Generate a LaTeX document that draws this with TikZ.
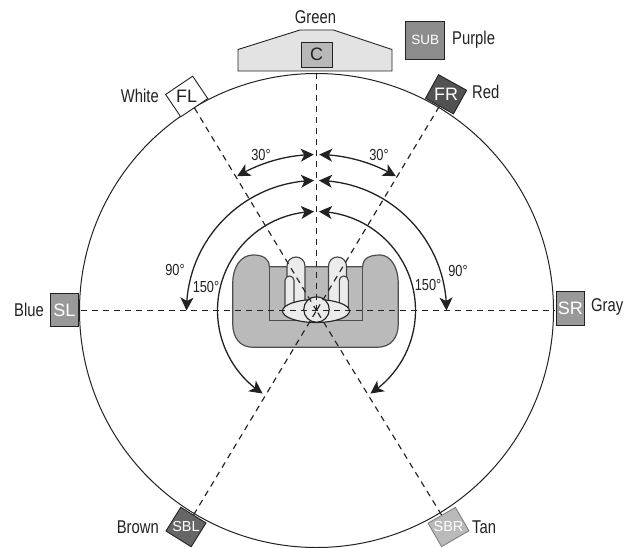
\documentclass[tikz,border=0pt]{standalone}
\usepackage{fontspec}
\setmainfont[FakeStretch=0.8]{Liberation Sans}
\newfontfamily\spkfont{Liberation Sans}
\usetikzlibrary{arrows.meta,bending,shapes.geometric}
\definecolor{ink}{HTML}{222222}
\definecolor{sofagray}{HTML}{BABABA}
\tikzset{
  lbl/.style={font=\fontsize{18.5}{18}\selectfont,text=ink,inner sep=0pt},
  deg/.style={font=\fontsize{16}{16}\selectfont,text=ink,inner sep=0pt},
  spk/.style={draw=ink,line width=0.9pt,inner sep=0pt,minimum width=#1},
  spktxt/.style={font=\spkfont\fontsize{#1}{16}\selectfont,inner sep=0pt},
  sight/.style={draw=ink,line width=1.15pt,dash pattern=on 6pt off 5pt},
  sweep/.style={draw=ink,line width=1.3pt,{Stealth[length=13pt,width=13pt,inset=3.5pt,flex]}-{Stealth[length=13pt,width=13pt,inset=3.5pt,flex]}},
  sofa/.style={draw=ink!80,line width=1.2pt,fill=sofagray}
}
\begin{document}
\begin{tikzpicture}[x=1pt,y=-1pt]
\useasboundingbox (0,0) rectangle (631,548);
\fill[white] (0,0) rectangle (631,548);
\coordinate (ctr) at (316.5,310.5);
% room
\draw[ink,line width=1pt] (ctr) circle[radius=237pt];
% sofa
\draw[sofa] (269.3,266.7) .. controls (269.3,258) and (262,255) .. (253.3,255)
  .. controls (240,255) and (232.7,268) .. (232.7,283.3) -- (232.7,323.3)
  .. controls (232.7,338) and (240,347.3) .. (253.3,347.3) -- (376.7,347.3)
  .. controls (391,347.3) and (398.3,338) .. (398.3,323.3) -- (398.3,283.3)
  .. controls (398.3,268) and (391,255) .. (380,255)
  .. controls (370,255) and (362.7,258) .. (362.7,266.7) -- cycle;
\draw[ink!80,line width=1.2pt] (269.3,266.7) -- (269.3,320.7) -- (362.7,320.7) -- (362.7,266.7);
% legs
\tikzset{leg/.style={draw=ink!85,line width=1.1pt,fill=black!8}}
\draw[leg] (287,310) -- (287,266) arc[start angle=180,end angle=0,radius=9pt] -- (305,310) -- cycle;
\draw[leg] (285,310) -- (285,280.5) arc[start angle=180,end angle=0,radius=4.5pt] -- (294,310) -- cycle;
\draw[leg] (328.5,310) -- (328.5,266) arc[start angle=180,end angle=0,radius=9pt] -- (346.5,310) -- cycle;
\draw[leg] (339.3,310) -- (339.3,280.5) arc[start angle=180,end angle=0,radius=4.5pt] -- (348.3,310) -- cycle;
\node[draw=ink,line width=1.1pt,fill=black!8,ellipse,minimum width=67pt,minimum height=23pt,inner sep=0pt] (lap) at (316,311) {};
\node[draw=ink,line width=1.1pt,fill=black!8,circle,minimum size=25.5pt,inner sep=0pt] (head) at (316.5,309.5) {};
% centre housing
\draw[ink,line width=0.9pt,fill=black!11] (238,71) -- (238,49.5) -- (300,30) -- (333.5,30) -- (392,49.5) -- (392,71) -- cycle;
% speakers
\node[spk=31pt,minimum height=25pt,fill=black!28] (C) at (316.5,54.6) {};
\node[spktxt=18,text=ink] at (C) {C};
\node[spk=39pt,minimum height=38pt,fill=black!45] (SUB) at (425.3,40) {};
\node[spktxt=13.5,text=white] at (SUB) {SUB};
\node[spk=32.6pt,minimum height=27pt,rotate=34,fill=white] (FL) at (186.7,96.5) {};
\node[spktxt=18,text=ink] at (FL) {FL};
\node[spk=32pt,minimum height=27pt,rotate=-29,fill=black!68] (FR) at (446,94.3) {};
\node[spktxt=18,text=white] at (FR) {FR};
\node[spk=27.6pt,minimum height=33.4pt,fill=black!40] (SL) at (64.5,310) {};
\node[spktxt=18,text=white] at (SL) {SL};
\node[spk=27.4pt,minimum height=33.4pt,fill=black!40] (SR) at (570.3,308.3) {};
\node[spktxt=18,text=white] at (SR) {SR};
\node[spk=29.7pt,minimum height=28pt,rotate=-32,fill=black!60] (SBL) at (186,527) {};
\node[spktxt=14.5,text=white] at (SBL) {SBL};
\node[spk=31.6pt,minimum height=27pt,rotate=30,fill=black!27,draw=black!50] (SBR) at (448.5,527) {};
\node[spktxt=14.5,text=white] at (SBR) {SBR};
% sight lines
\coordinate (topend) at (316.5,73.5);
\coordinate (slend) at (81,310.5);
\coordinate (srend) at (555,310.5);
\draw[sight] (topend) -- (ctr);
\draw[sight] (FL.south) -- (ctr);
\draw[sight] (FR.south) -- (ctr);
\draw[sight] (slend) -- (srend);
\draw[sight] (SBL.north) -- (ctr);
\draw[sight] (SBR.north) -- (ctr);
% sweeps
\draw[sweep] (ctr) ++(91:156pt) arc[start angle=91,end angle=120.6,radius=156pt];
\draw[sweep] (ctr) ++(89:156pt) arc[start angle=89,end angle=59.4,radius=156pt];
\draw[sweep] (ctr) ++(91.1:130pt) arc[start angle=91.1,end angle=180,radius=130pt];
\draw[sweep] (ctr) ++(88.9:130pt) arc[start angle=88.9,end angle=0,radius=130pt];
\draw[sweep] (ctr) ++(91.4:99pt) arc[start angle=91.4,end angle=237,radius=99pt];
\draw[sweep] (ctr) ++(88.6:99pt) arc[start angle=88.6,end angle=-57,radius=99pt];
% labels
\node[lbl] (lgreen) at (315.5,17) {Green};
\node[lbl,anchor=west] (lpurple) at (452,40) {Purple};
\node[lbl,anchor=east] (lwhite) at (159,96) {White};
\node[lbl,anchor=west] (lred) at (472,92) {Red};
\node[lbl,anchor=east] (lblue) at (44,310) {Blue};
\node[lbl,anchor=west] (lgray) at (591,307) {Gray};
\node[lbl,anchor=east] (lbrown) at (159,527) {Brown};
\node[lbl,anchor=west] (ltan) at (472,527) {Tan};
\node[deg] (a1) at (261,155) {30°};
\node[deg] (a2) at (379,155) {30°};
\node[deg] (a3) at (175,270) {90°};
\node[deg] (a4) at (458,271) {90°};
\node[deg] (a5) at (206,287) {150°};
\node[deg] (a6) at (428,285) {150°};
\end{tikzpicture}
\end{document}
